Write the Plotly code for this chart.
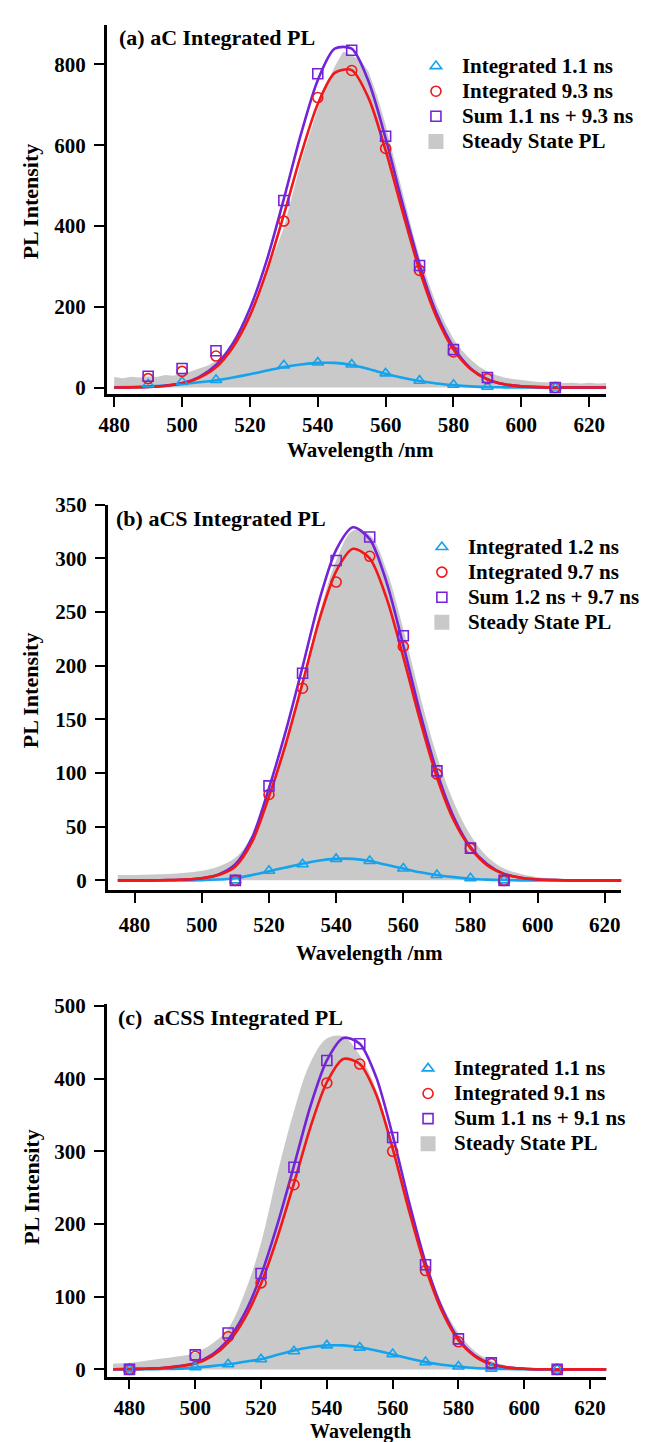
import plotly.graph_objects as go

W, H = 645, 1442

# ---------------- Panel (a) aC ----------------
a_mark_wl = [490, 500, 510, 530, 540, 550, 560, 570, 580, 590, 610]
a_fast = [8, 14, 19, 55, 62, 57, 35, 17, 7, 2, 0]
a_slow = [22, 40, 78, 412, 718, 785, 592, 290, 88, 22, 0]
a_sum = [28, 47, 91, 463, 777, 835, 622, 302, 94, 25, 0]
a_fit_wl = [480, 485, 490, 495, 500, 505, 510, 515, 520, 525, 530, 535, 540, 545, 550,
            555, 560, 565, 570, 575, 580, 585, 590, 595, 600, 605, 610, 615, 620, 625]
a_fit_fast = [0.5, 1.5, 3, 5, 9, 13, 18, 25, 33, 42, 51, 57, 61, 61, 56,
              46, 34, 24, 16, 10, 6, 3, 1, 0.5, 0, 0, 0, 0, 0, 0]
a_fit_slow = [0, 0.5, 1.5, 4, 10, 24, 50, 100, 178, 290, 428, 575, 702, 779, 786,
              716, 587, 435, 290, 174, 94, 46, 20, 8, 3, 1, 0, 0, 0, 0]
a_fit_sum = [0, 0.5, 1.5, 4.5, 11, 26, 56, 110, 196, 316, 467, 626, 761, 839, 839,
             757, 617, 455, 304, 183, 100, 48, 21, 8, 3, 1, 0, 0, 0, 0]
a_ss_wl = [480, 482.5, 485, 487.5, 490, 492.5, 495, 497.5, 500, 502.5, 505, 507.5, 510,
           512.5, 515, 517.5, 520, 522.5, 525, 527.5, 530, 532.5, 535, 537.5, 540, 542.5,
           545, 547.5, 550, 552.5, 555, 557.5, 560, 562.5, 565, 567.5, 570, 572.5, 575,
           577.5, 580, 582.5, 585, 587.5, 590, 592.5, 595, 597.5, 600, 602.5, 605, 607.5,
           610, 612.5, 615, 617.5, 620, 622.5, 625]
a_ss = [26, 23, 27, 25, 28, 26, 31, 29, 36, 40, 47, 54, 66, 84, 112, 145, 186, 234, 290,
        340, 396, 478, 558, 625, 690, 748, 795, 832, 822, 812, 782, 722, 650, 565, 480,
        400, 322, 262, 205, 160, 120, 92, 70, 52, 40, 31, 25, 21, 18, 16, 14, 13, 13, 11,
        12, 10, 12, 10, 11]

# ---------------- Panel (b) aCS ----------------
b_mark_wl = [510, 520, 530, 540, 550, 560, 570, 580, 590]
b_fast = [0, 9, 15, 20, 18, 11, 5, 2, 0]
b_slow = [0, 80, 179, 278, 302, 218, 99, 30, 0]
b_sum = [0, 88, 193, 298, 320, 228, 102, 30, 0]
b_fit_wl = [475, 480, 485, 490, 495, 500, 505, 510, 515, 520, 525, 530, 535, 540, 545, 550,
            555, 560, 565, 570, 575, 580, 585, 590, 595, 600, 605, 610, 615, 620, 625]
b_fit_fast = [0, 0, 0, 0, 0, 0.2, 0.8, 2, 5, 8.5, 12, 15.5, 18.5, 20, 20, 18,
              14.5, 11, 7.5, 5, 3, 1.5, 0.7, 0.3, 0, 0, 0, 0, 0, 0, 0]
b_fit_slow = [0, 0, 0, 0.3, 0.8, 2, 5, 13, 36, 78, 127, 184, 243, 288, 309, 300,
              263, 208, 149, 96, 56, 30, 14, 6, 2.4, 0.8, 0.3, 0, 0, 0, 0]
b_fit_sum = [0, 0, 0, 0.3, 0.8, 2, 5.5, 15, 40, 86, 139, 199, 261, 308, 329, 318,
             278, 219, 156, 101, 59, 31, 15, 6, 2.4, 0.8, 0.3, 0, 0, 0, 0]
b_ss = [5, 5, 5.5, 6, 7, 9, 13, 21, 42, 82, 133, 188, 248, 298, 326, 322,
        289, 234, 172, 116, 73, 42, 22, 11, 6, 3, 2, 1, 0.5, 0.3, 0]

# ---------------- Panel (c) aCSS ----------------
c_mark_wl = [480, 500, 510, 520, 530, 540, 550, 560, 570, 580, 590, 610]
c_fast = [0, 3, 7, 14, 25, 33, 30, 21, 10, 4, 1, 0]
c_slow = [0, 18, 45, 119, 254, 394, 420, 300, 136, 38, 8, 0]
c_sum = [0, 20, 50, 132, 278, 425, 448, 319, 144, 42, 9, 0]
c_fit_wl = [475, 480, 485, 490, 495, 500, 505, 510, 515, 520, 525, 530, 535, 540, 545, 550,
            555, 560, 565, 570, 575, 580, 585, 590, 595, 600, 605, 610, 615, 620, 625]
c_fit_fast = [0, 0, 0.2, 0.5, 1, 2.5, 4.5, 7, 10.5, 14, 20, 26, 30.5, 33, 33, 30.5,
              26, 20.5, 15, 10, 6.5, 4, 2, 1, 0.5, 0.2, 0, 0, 0, 0, 0]
c_fit_slow = [0.3, 0.5, 1, 2, 4, 8, 18, 37, 70, 118, 182, 256, 333, 395, 427, 420,
              378, 304, 218, 140, 80, 40, 18, 7, 2.5, 1, 0.3, 0, 0, 0, 0]
c_fit_sum = [0.3, 0.5, 1, 2, 4.5, 9, 20, 41, 77, 130, 200, 280, 362, 425, 456, 448,
             402, 322, 230, 147, 84, 42, 19, 7.5, 2.7, 1, 0.3, 0, 0, 0, 0]
c_ss = [8, 9, 12, 15, 18, 23, 35, 56, 105, 174, 270, 355, 422, 455, 458, 432,
        385, 310, 225, 148, 90, 50, 25, 12, 5, 2, 1, 0.5, 0.3, 0, 0]

x_ticks = [480, 500, 520, 540, 560, 580, 600, 620]

BLUE = "#14A3EC"
RED = "#F01818"
PURPLE = "#7424D8"
GRAY = "#C9C9C9"
FONT = "Liberation Serif"


def fx(p):
    return p / W


def fy(p):
    return 1 - p / H


def big(t):
    return '<span style="font-size:21px">' + t + '</span>'


fig = go.Figure()

panels = [
    dict(sfx="", leg="legend", mwl=a_mark_wl, fast=a_fast, slow=a_slow, sm=a_sum,
         fwl=a_fit_wl, ffast=a_fit_fast, fslow=a_fit_slow, fsum=a_fit_sum,
         sswl=a_ss_wl, ss=a_ss, ssshape="linear",
         names=["Integrated 1.1 ns", "Integrated 9.3 ns", "Sum 1.1 ns + 9.3 ns"]),
    dict(sfx="2", leg="legend2", mwl=b_mark_wl, fast=b_fast, slow=b_slow, sm=b_sum,
         fwl=b_fit_wl, ffast=b_fit_fast, fslow=b_fit_slow, fsum=b_fit_sum,
         sswl=b_fit_wl, ss=b_ss, ssshape="spline",
         names=["Integrated 1.2 ns", "Integrated 9.7 ns", "Sum 1.2 ns + 9.7 ns"]),
    dict(sfx="3", leg="legend3", mwl=c_mark_wl, fast=c_fast, slow=c_slow, sm=c_sum,
         fwl=c_fit_wl, ffast=c_fit_fast, fslow=c_fit_slow, fsum=c_fit_sum,
         sswl=c_fit_wl, ss=c_ss, ssshape="spline",
         names=["Integrated 1.1 ns", "Integrated 9.1 ns", "Sum 1.1 ns + 9.1 ns"]),
]

for p in panels:
    xa, ya = "x" + p["sfx"], "y" + p["sfx"]
    fig.add_trace(go.Scatter(x=p["sswl"], y=p["ss"], mode="lines", fill="tozeroy",
                             fillcolor=GRAY, line=dict(width=0, color=GRAY, shape=p["ssshape"]),
                             showlegend=False, xaxis=xa, yaxis=ya, hoverinfo="skip"))
    for ys, col in [(p["ffast"], BLUE), (p["fsum"], PURPLE), (p["fslow"], RED)]:
        fig.add_trace(go.Scatter(x=p["fwl"], y=ys, mode="lines",
                                 line=dict(color=col, width=2.6, shape="spline", smoothing=0.8),
                                 showlegend=False, xaxis=xa, yaxis=ya))
    for ys, col, sym, nm, rk in [(p["fast"], BLUE, "triangle-up-open", p["names"][0], 1),
                                 (p["slow"], RED, "circle-open", p["names"][1], 2),
                                 (p["sm"], PURPLE, "square-open", p["names"][2], 3)]:
        fig.add_trace(go.Scatter(x=p["mwl"], y=ys, mode="markers", name=big(nm),
                                 marker=dict(symbol=sym, size=10, color=col,
                                             line=dict(width=1.6, color=col)),
                                 legend=p["leg"], legendrank=rk, xaxis=xa, yaxis=ya))
    fig.add_trace(go.Scatter(x=[None], y=[None], mode="markers", name=big("Steady State PL"),
                             marker=dict(symbol="square", size=15, color=GRAY),
                             legend=p["leg"], legendrank=4, xaxis=xa, yaxis=ya))

axis_common = dict(showline=True, linecolor="black", linewidth=2.5, ticks="outside",
                   ticklen=10, tickwidth=2.2, tickcolor="black", showgrid=False,
                   zeroline=False, mirror=False,
                   tickfont=dict(family=FONT, size=21, color="black", weight="bold"))

layout_axes = {}
geo = [
    ("", (100, 606), (13, 387), [477.8, 625.1], [-16.4, 898], [0, 200, 400, 600, 800], 0),
    ("2", (101, 621), (499, 889), [472.0, 624.9], [-8.9, 350],
     [0, 50, 100, 150, 200, 250, 300, 350], 4),
    ("3", (100, 606), (1005, 1382), [473.1, 625.0], [-10.1, 502],
     [0, 100, 200, 300, 400, 500], 0),
]
for sfx, (xl, xr), (yt, yb), xr_, yr_, yt_, so in geo:
    layout_axes["xaxis" + sfx] = dict(axis_common, domain=[fx(xl), fx(xr)], range=xr_,
                                      tickvals=x_ticks, anchor="y" + sfx, ticklabelstandoff=so)
    layout_axes["yaxis" + sfx] = dict(axis_common, domain=[fy(yb), fy(yt)], range=yr_,
                                      tickvals=yt_, anchor="x" + sfx, ticklabelstandoff=4)

fig.update_layout(**layout_axes)

leg_common = dict(bgcolor="rgba(0,0,0,0)", borderwidth=0, xanchor="left", yanchor="top",
                  font=dict(family=FONT, size=17, color="black", weight="bold"),
                  traceorder="normal", itemsizing="trace", tracegroupgap=0, itemwidth=42)
fig.update_layout(
    legend=dict(leg_common, x=fx(407), y=fy(37)),
    legend2=dict(leg_common, x=fx(413), y=fy(524)),
    legend3=dict(leg_common, x=fx(399), y=fy(1052)),
)

ann = []
tfont = dict(family=FONT, size=22, color="black", weight="bold")
for txt, x, y in [("(a) aC Integrated PL", 110, 26),
                  ("(b) aCS Integrated PL", 107, 513),
                  ("(c)\u00a0 aCSS Integrated PL", 109, 1018)]:
    ann.append(dict(text=txt, x=fx(x), y=fy(y), xref="paper", yref="paper",
                    xanchor="left", yanchor="middle", showarrow=False, font=tfont))
for y in [192, 687, 1190]:
    ann.append(dict(text="PL Intensity", x=fx(23), y=fy(y), xref="paper", yref="paper",
                    xanchor="center", yanchor="middle", showarrow=False, textangle=-90,
                    font=tfont))
for txt, x, y, sz in [("Wavelength /nm", 357, 444, 21), ("Wavelength /nm", 366, 953, 21),
                      ("Wavelength", 357, 1437, 20)]:
    ann.append(dict(text=txt, x=fx(x), y=fy(y), xref="paper", yref="paper",
                    xanchor="center", yanchor="middle", showarrow=False,
                    font=dict(tfont, size=sz)))

fig.update_layout(width=W, height=H, margin=dict(l=0, r=0, t=0, b=0),
                  plot_bgcolor="white", paper_bgcolor="white", annotations=ann,
                  font=dict(family=FONT, size=21, color="black", weight="bold"))

fig.write_html("out.html")
